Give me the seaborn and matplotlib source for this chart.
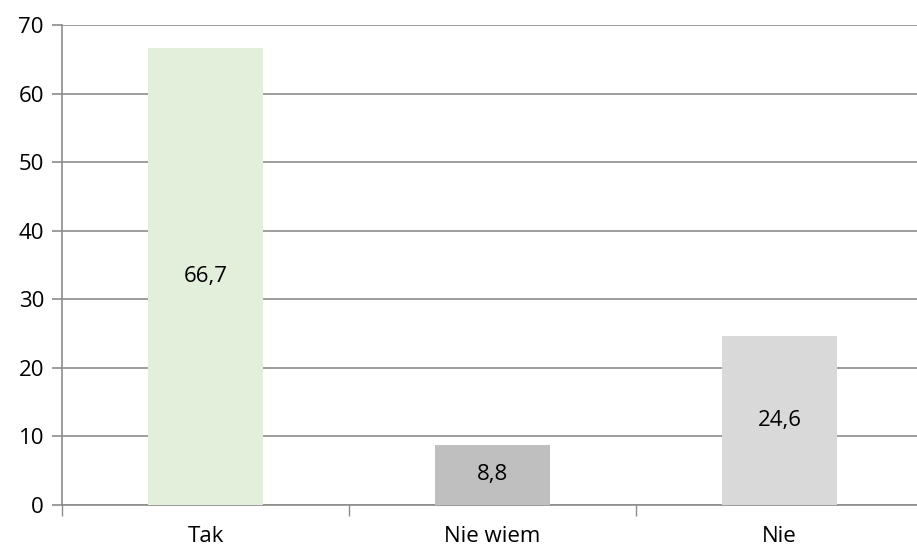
import pandas as pd
import seaborn as sns
import matplotlib.pyplot as plt

# data
categories = ["Tak", "Nie wiem", "Nie"]
values = [66.7, 8.8, 24.6]
bar_colors = ["#E2EFDA", "#BFBFBF", "#D9D9D9"]
y_ticks = [0, 10, 20, 30, 40, 50, 60, 70]

grid_color = "#8C8C8C"
font_size = 16

sns.set_theme(style="white")
plt.rcParams["font.family"] = ["Open Sans", "DejaVu Sans"]

df = pd.DataFrame({"Odpowiedz": categories, "Procent": values})

fig = plt.figure(figsize=(9.17, 5.47), dpi=100)
ax = fig.add_axes([62 / 917, 42 / 547, 861 / 917, 480 / 547])

sns.barplot(
    data=df,
    x="Odpowiedz",
    y="Procent",
    hue="Odpowiedz",
    palette=dict(zip(categories, bar_colors)),
    width=0.4,
    saturation=1,
    legend=False,
    linewidth=0,
    ax=ax,
    zorder=3,
)

for container, v in zip(ax.containers, values):
    ax.bar_label(
        container,
        labels=[f"{v:.1f}".replace(".", ",")],
        label_type="center",
        fontsize=font_size,
        color="black",
    )

ax.set_xlim(-0.5, 2.5)
ax.set_ylim(0, 70)
ax.set_yticks(y_ticks)
ax.yaxis.grid(True, color=grid_color, linewidth=1.2, zorder=0)
ax.set_axisbelow(True)

ax.set_xticks([-0.5, 0.5, 1.5, 2.5], minor=True)
ax.tick_params(axis="x", which="major", length=0, pad=15, labelsize=font_size, colors="black")
ax.tick_params(axis="x", which="minor", length=8, width=1, color=grid_color, direction="out", bottom=True)
ax.tick_params(axis="y", length=7, width=1.2, color=grid_color, direction="out", left=True,
               pad=6, labelsize=font_size, labelcolor="black")

ax.set_xlabel("")
ax.set_ylabel("")

for side in ["top", "right"]:
    ax.spines[side].set_visible(False)
for side in ["left", "bottom"]:
    ax.spines[side].set_color(grid_color)
    ax.spines[side].set_linewidth(1.2)

fig.savefig("out.png", dpi=100)
